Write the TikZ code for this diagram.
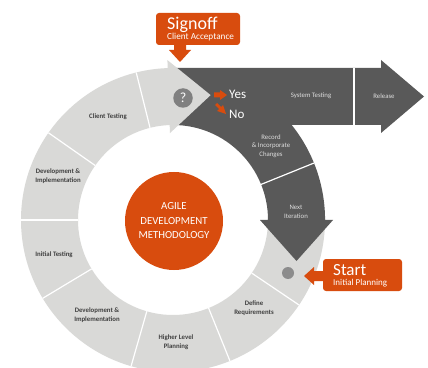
\documentclass[tikz,border=0pt]{standalone}
\usepackage{fontspec}
\setmainfont{Carlito}
\usetikzlibrary{calc}
\definecolor{lg}{RGB}{217,217,215}
\definecolor{dg}{RGB}{89,89,89}
\definecolor{og}{RGB}{216,76,14}
\definecolor{lbl}{RGB}{64,64,64}
\definecolor{dlbl}{RGB}{222,222,222}
\definecolor{qg}{RGB}{128,128,128}
\definecolor{dotg}{RGB}{140,140,140}
\begin{document}
\begin{tikzpicture}[x=1pt,y=1pt,
  seglbl/.style={font=\fontsize{6.8}{8.4}\selectfont\bfseries, text=lbl, align=center, inner sep=0},
  darklbl/.style={font=\fontsize{6.8}{8.4}\selectfont, text=dlbl, align=center, inner sep=0},
  divider/.style={white, line width=1.2pt},
  calloutbox/.style={fill=og, rounded corners=3pt, inner sep=0},
  bigtxt/.style={anchor=base west, text=white, inner sep=0},
]
\useasboundingbox (0,0) rectangle (428,367);
\fill[white] (0,0) rectangle (428,367);
\coordinate (C) at (173,147);
% light ring
\fill[lg] ($(C)+(91:152)$) arc[start angle=91,end angle=360,radius=152]
  -- ($(C)+(0:95)$) arc[start angle=360,end angle=91,radius=95] -- cycle;
\foreach \a in {104,145,180,211,254,292,326}
  \draw[divider] ($(C)+(\a:95)$) -- ($(C)+(\a:152)$);
% dark band with two arrows
\fill[dg] ($(C)+(90:152)$) -- (381,299) -- (381,307) -- (424,270.5) -- (381,234)
  -- (381,242) -- (291.7,242) arc[start angle=38.68,end angle=0,radius=152]
  -- ++(8,0) -- (296.5,106) -- ($(C)+(0:87)$) -- ($(C)+(0:95)$)
  arc[start angle=0,end angle=90,radius=95] -- cycle;
\draw[divider] ($(C)+(22:95)$) -- ($(C)+(22:152)$);
\draw[divider] (354,299) -- (354,242);
% light arrow head
\fill[lg] ($(C)+(92:160)$) -- ($(C)+(92:123.5)+(2:42)$) -- ($(C)+(92:87)$) -- cycle;
% question mark and dot
\node[circle, fill=qg, minimum size=19.5pt, inner sep=0, text=white!90!lg,
  font=\fontsize{14}{14}\selectfont] (q) at (183,269) {?};
\node[circle, fill=dotg, minimum size=12pt, inner sep=0] (dot) at (288,94) {};
% centre
\node[circle, fill=og, minimum size=98pt, inner sep=0, text=white,
  font=\fontsize{10.8}{14.5}\selectfont, align=center] (core) at (174,146)
  {AGILE\\DEVELOPMENT\\METHODOLOGY};
% yes / no
\fill[og] (214,274.5) -- (220,274.5) -- (220,277) -- (227,272) -- (220,267)
  -- (220,269.5) -- (214,269.5) -- cycle;
\fill[og] (215,262) -- (219,258) -- (217,256) -- (226,253) -- (223,262)
  -- (221,260) -- (217,264) -- cycle;
\node[bigtxt, font=\fontsize{13}{13}\selectfont] (yes) at (229,268) {Yes};
\node[bigtxt, font=\fontsize{13}{13}\selectfont] (no) at (229,248) {No};
% segment labels
\node[seglbl] (ct) at (108,250) {Client Testing};
\node[seglbl] (di1) at (58,191) {Development \&\\Implementation};
\node[seglbl] (it) at (54,112) {Initial Testing};
\node[seglbl] (di2) at (97,52) {Development \&\\Implementation};
\node[seglbl] (hl) at (176,25) {Higher Level\\Planning};
\node[seglbl] (dr) at (254,59) {Define\\Requirements};
\node[darklbl] (st) at (311,271) {System Testing};
\node[darklbl] (rel) at (384,271) {Release};
\node[darklbl] (rec) at (271,221) {Record\\\& Incorporate\\Changes};
\node[darklbl] (ni) at (296,155) {Next\\Iteration};
% signoff callout
\node[calloutbox, minimum width=84pt, minimum height=32pt] (sbox) at (198,338) {};
\fill[og] (174,323) -- (174,317) -- (169,317) -- (180,305) -- (191,317)
  -- (186,317) -- (186,323) -- cycle;
\node[bigtxt, font=\fontsize{18}{18}\selectfont] (sig) at (167,337) {Signoff};
\node[bigtxt, font=\fontsize{9.2}{9.2}\selectfont] (ca) at (167,327) {Client Acceptance};
% start callout
\node[calloutbox, minimum width=79pt, minimum height=32pt] (stbox) at (362.5,92) {};
\fill[og] (324,96) -- (314,96) -- (314,100) -- (304,91) -- (314,82) -- (314,86)
  -- (324,86) -- cycle;
\node[bigtxt, font=\fontsize{17}{17}\selectfont] (start) at (333,92) {Start};
\node[bigtxt, font=\fontsize{9}{9}\selectfont] (ip) at (333,82) {Initial Planning};
\end{tikzpicture}
\end{document}
